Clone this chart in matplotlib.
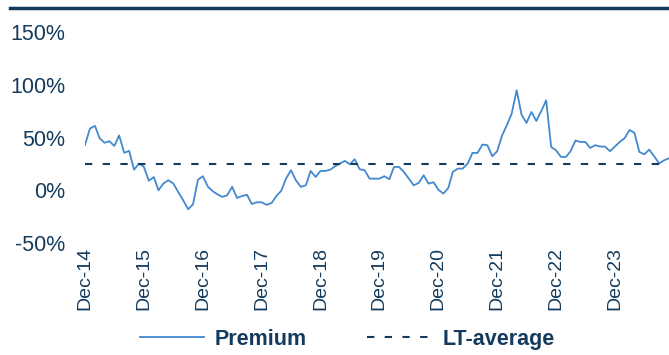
import matplotlib
matplotlib.use("Agg")
import matplotlib.pyplot as plt
import matplotlib.dates as mdates
from matplotlib.lines import Line2D
import pandas as pd

# Monthly premium (%) from Dec-2014 onwards
premium = [
    43, 58.5, 61, 49.5, 45, 46.5, 42, 52, 35.5, 37.3, 19.5, 25.3,
    22.3, 9, 12.5, 0, 6.5, 9.5, 6.3, -1.6, -9.5, -18, -13.3, 10,
    13.3, 3.5, -1, -3.8, -6.3, -4.7, 3.2, -7.3, -5.5, -4.3, -13, -11.4,
    -11.4, -13.9, -12, -5.7, -0.6, 11, 19, 9.5, 3.2, 4.7, 18.3, 12.6,
    18.3, 18.3, 19.6, 22.7, 25.3, 27.8, 24.6, 29.4, 19.9, 19, 11, 11,
    11, 13.3, 10.4, 22.1, 22.1, 17.4, 11, 4.7, 6.9, 14.2, 6.3, 7.6,
    0.6, -3.2, 2.2, 17.4, 20.5, 20.5, 25.3, 35.4, 35.4, 43.3, 42.7, 32.2,
    37, 52.1, 62.3, 72.7, 94.8, 71.7, 63.8, 74.2, 65.7, 75.2, 85.3, 41,
    37.9, 31.6, 31.6, 37, 47.1, 45.8, 45.8, 40.1, 42.7, 41.4, 41.4, 37,
    41.4, 45.8, 49.6, 57.2, 54.3, 36.3, 34.1, 38.5, 32.2, 25.3, 28.4, 30.3,
]
lt_average = 25
dates = pd.date_range("2014-12-01", periods=len(premium), freq="MS")
y_ticks = [-50, 0, 50, 100, 150]
y_labels = ["-50%", "0%", "50%", "100%", "150%"]

NAVY = "#143b5e"
BLUE = "#4389cf"

plt.rcParams["font.family"] = ["Liberation Sans", "DejaVu Sans"]

fig = plt.figure(figsize=(6.69, 3.55), dpi=100)
ax = fig.add_axes([85 / 669, 112 / 355, 584 / 669, 211 / 355])

ax.plot(dates, premium, color=BLUE, lw=1.3, label="Premium")
ax.plot([dates[0], dates[-1]], [lt_average, lt_average], color=NAVY, lw=1.5,
        dashes=(3.5, 5), label="LT-average")

ax.set_xlim(dates[0], dates[-1])
ax.set_ylim(-50, 150)
ax.set_yticks(y_ticks)
ax.set_yticklabels(y_labels)
ax.xaxis.set_major_locator(mdates.MonthLocator(bymonth=12))
ax.xaxis.set_major_formatter(mdates.DateFormatter("%b-%y"))

ax.tick_params(axis="y", length=0, pad=14, labelsize=15.5, labelcolor=NAVY)
ax.tick_params(axis="x", length=0, pad=3, labelsize=14, labelcolor=NAVY,
               labelrotation=90)
for s in ax.spines.values():
    s.set_visible(False)

# Header rule across the top
fig.add_artist(Line2D([10 / 669, 1.0], [1 - 8 / 355, 1 - 8 / 355],
                      color=NAVY, lw=2.5, transform=fig.transFigure))

leg = fig.legend(loc="center", bbox_to_anchor=(0.519, 0.045), ncol=2,
                 frameon=False, handlelength=3.0, handletextpad=0.5,
                 columnspacing=2.8,
                 prop={"weight": "bold", "size": 15.5})
for t in leg.get_texts():
    t.set_color(NAVY)

fig.savefig("out.png", dpi=100)
